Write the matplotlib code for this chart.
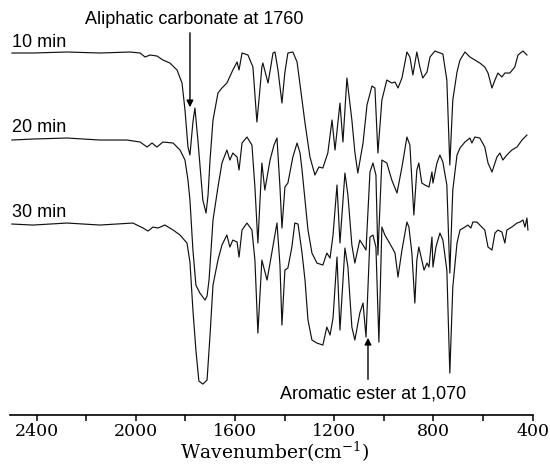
import numpy as np
import matplotlib
matplotlib.use("Agg")
from matplotlib import pyplot as plt

plt.rcParams['mathtext.fontset'] = 'dejavuserif'

# IR spectra, wavenumber (cm-1) and transmittance (a.u., 0 = baseline of each trace)
wn_10 = [2500, 2415, 2278, 2145, 2024, 1983, 1963, 1943, 1915, 1891, 1863, 1834, 1814, 1802, 1790,
         1782, 1770, 1762, 1750, 1730, 1717, 1709, 1701, 1689, 1669, 1653, 1633, 1609, 1592, 1584,
         1572, 1548, 1528, 1512, 1500, 1492, 1488, 1467, 1447, 1439, 1427, 1411, 1399, 1387, 1367,
         1350, 1330, 1318, 1298, 1278, 1262, 1246, 1226, 1209, 1197, 1177, 1165, 1149, 1129, 1117,
         1105, 1084, 1068, 1048, 1036, 1024, 1008, 988, 968, 955, 943, 927, 907, 895, 883,
         867, 855, 843, 826, 814, 794, 762, 746, 734, 722, 705, 693, 673, 653, 633,
         613, 593, 580, 564, 552, 540, 524, 512, 492, 472, 459, 439, 423]
t_10 = [0, 0, 1, 0, 1, 0, -4, -2, -3, -7, -10, -17, -30, -57, -94,
        -102, -69, -55, -87, -147, -160, -142, -107, -67, -40, -35, -30, -17, -9, -17,
        0, -2, -14, -69, -37, -14, -10, -30, 0, 1, -17, -50, -19, 0, 1,
        -9, -47, -70, -104, -122, -114, -115, -100, -67, -97, -50, -89, -25, -67, -99,
        -120, -90, -52, -33, -35, -100, -47, -27, -30, -29, -35, -25, 1, -4, -22,
        1, -14, -25, -19, -4, 2, -1, -27, -112, -47, -19, -7, 1, -4, -7,
        -10, -14, -20, -35, -27, -20, -24, -20, -20, -14, -2, 2, -2]

wn_20 = [2500, 2415, 2278, 2145, 2036, 1983, 1955, 1935, 1915, 1891, 1850, 1822, 1802, 1790, 1782,
         1770, 1758, 1742, 1721, 1713, 1705, 1697, 1689, 1669, 1653, 1633, 1621, 1609, 1592, 1584,
         1572, 1552, 1532, 1520, 1508, 1492, 1480, 1459, 1443, 1431, 1419, 1411, 1399, 1387, 1367,
         1350, 1338, 1330, 1318, 1306, 1290, 1270, 1246, 1230, 1217, 1205, 1189, 1177, 1157, 1145,
         1129, 1117, 1097, 1084, 1072, 1056, 1044, 1032, 1024, 1008, 988, 968, 947, 927, 907,
         895, 879, 867, 859, 847, 834, 818, 806, 802, 786, 774, 762, 746, 734, 722,
         705, 693, 673, 653, 645, 633, 613, 593, 580, 564, 544, 532, 520, 504, 484,
         463, 443, 423]
t_20 = [0, 1, 2, 0, 0, -2, -7, -3, -7, -2, -3, -10, -20, -40, -60,
        -110, -145, -153, -160, -156, -140, -110, -80, -47, -23, -10, -20, -13, -17, -30,
        -3, 3, -5, -47, -103, -23, -50, -20, -5, 2, -47, -88, -47, -43, -17,
        -3, -13, -30, -60, -90, -113, -123, -125, -113, -118, -95, -45, -103, -33, -55,
        -105, -123, -100, -105, -110, -32, -23, -35, -115, -20, -23, -40, -53, -27, 3,
        -5, -75, -30, -23, -43, -45, -47, -32, -43, -23, -15, -22, -45, -133, -50,
        -15, -8, -2, 2, -3, 3, 2, -7, -23, -32, -17, -13, -20, -15, -10,
        -7, 0, 5]

wn_30 = [2500, 2415, 2278, 2145, 2012, 1971, 1951, 1931, 1911, 1883, 1850, 1822, 1794, 1782, 1770,
         1758, 1746, 1730, 1713, 1701, 1689, 1669, 1653, 1633, 1621, 1609, 1592, 1584, 1572, 1552,
         1532, 1520, 1508, 1492, 1471, 1459, 1443, 1431, 1419, 1411, 1399, 1387, 1371, 1359, 1346,
         1330, 1318, 1306, 1290, 1270, 1246, 1230, 1217, 1205, 1189, 1177, 1157, 1145, 1129, 1117,
         1097, 1084, 1072, 1056, 1044, 1032, 1020, 1008, 996, 984, 968, 955, 943, 927, 907,
         899, 887, 875, 867, 859, 847, 838, 826, 818, 806, 802, 790, 774, 762, 746,
         734, 722, 705, 693, 673, 661, 649, 641, 625, 605, 593, 580, 564, 552, 540,
         524, 512, 504, 484, 463, 451, 439, 431, 423, 419]
t_30 = [0, -1, 1, -1, 1, -4, -7, -3, -4, -1, -6, -11, -19, -38, -86,
        -126, -157, -160, -156, -111, -61, -36, -21, -11, -23, -16, -18, -33, -6, 1,
        -6, -36, -109, -36, -56, -39, -16, 1, -41, -101, -46, -44, -23, 1, 0,
        -29, -56, -96, -116, -119, -121, -103, -111, -94, -33, -106, -24, -43, -103, -116,
        -89, -79, -113, -13, -11, -23, -118, -3, -11, -16, -23, -29, -53, -26, 2,
        -3, -29, -79, -36, -23, -36, -46, -39, -43, -13, -43, -23, -9, -16, -46,
        -149, -63, -19, -6, -3, -1, -4, 2, 2, -3, -6, -23, -26, -9, -6,
        -8, -19, -6, -3, 1, 2, 4, -3, 6, -6]

labels = ["10 min", "20 min", "30 min"]
offsets = [-53, -140, -224]
label_y = [-47, -132, -217]

fig = plt.figure(figsize=(5.5, 4.76), dpi=100)
ax = fig.add_axes([0, 0.128, 1, 0.872])

for wn, t, off in zip([wn_10, wn_20, wn_30], [t_10, t_20, t_30], offsets):
    ax.plot(wn, np.array(t) + off, color='#111111', lw=0.85)

for lab, ly in zip(labels, label_y):
    ax.text(2500, ly, lab, fontsize=13, family='Liberation Sans', ha='left', va='baseline')

ax.text(2205, -24, "Aliphatic carbonate at 1760", fontsize=13, family='Liberation Sans',
        ha='left', va='baseline')
ax.annotate("", xy=(1782, -110), xytext=(1782, -30),
            arrowprops=dict(arrowstyle='-|>', color='black', lw=1, mutation_scale=10))
ax.text(1419, -398, "Aromatic ester at 1,070", fontsize=13, family='Liberation Sans',
        ha='left', va='baseline')
ax.annotate("", xy=(1064, -335), xytext=(1064, -382),
            arrowprops=dict(arrowstyle='-|>', color='black', lw=1, mutation_scale=10))

ax.set_xlim(2548, 330)
ax.set_ylim(-415, 0)
for s in ['top', 'left', 'right']:
    ax.spines[s].set_visible(False)
ax.spines['bottom'].set_bounds(2506, 400)
ax.spines['bottom'].set_linewidth(1.2)
ax.set_yticks([])
ax.set_xticks(np.arange(2400, 399, -400))
ax.set_xticks(np.arange(2200, 500, -400), minor=True)
ax.tick_params(axis='x', which='both', direction='out', length=4.5, width=1.1, pad=1.5)
for lab in ax.get_xticklabels():
    lab.set_family('DejaVu Serif')
    lab.set_fontsize(12.5)
ax.set_xlabel("Wavenumber(cm$^{-1}$)", fontsize=13.5, family='DejaVu Serif', labelpad=0)

fig.savefig("out.png", dpi=100)
